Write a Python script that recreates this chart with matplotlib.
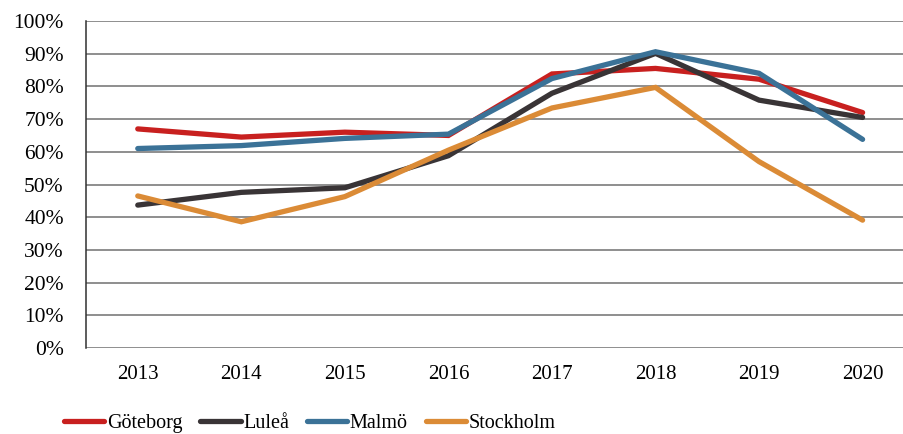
import matplotlib
matplotlib.use("Agg")
import matplotlib.pyplot as plt
from matplotlib.ticker import PercentFormatter

years = ["2013", "2014", "2015", "2016", "2017", "2018", "2019", "2020"]

goteborg = [67, 64.5, 66, 65, 83.8, 85.5, 82.2, 72]
lulea = [43.7, 47.6, 49, 58.8, 77.9, 90.1, 75.8, 70.5]
malmo = [61, 61.9, 64.1, 65.4, 82.4, 90.6, 84, 63.8]
stockholm = [46.5, 38.6, 46.3, 60.5, 73.4, 79.7, 57, 39.1]

series = [
    ("Göteborg", goteborg, "#c8201f"),
    ("Luleå", lulea, "#393436"),
    ("Malmö", malmo, "#3b7297"),
    ("Stockholm", stockholm, "#db8b36"),
]

plt.rcParams["font.family"] = ["Liberation Serif", "DejaVu Serif"]

fig = plt.figure(figsize=(9.04, 4.34), dpi=100)
ax = fig.add_axes([86 / 904, 86 / 434, 1 - 86 / 904, 327 / 434])

x = range(len(years))
for name, vals, color in series:
    ax.plot(x, vals, color=color, linewidth=3.8, label=name,
            solid_capstyle="round", solid_joinstyle="miter")

ax.set_ylim(0, 100)
ax.set_yticks(range(0, 101, 10))
ax.yaxis.set_major_formatter(PercentFormatter(decimals=0))
ax.set_xlim(-0.5, 7.4)
ax.set_xticks(list(x))
ax.set_xticklabels(years)

ax.grid(axis="y", color="#707070", linewidth=1.1)
ax.set_axisbelow(True)
for s in ["top", "right", "bottom"]:
    ax.spines[s].set_visible(False)
ax.spines["left"].set_color("#303030")
ax.spines["left"].set_linewidth(1.1)
ax.tick_params(axis="both", length=0)
ax.tick_params(axis="y", pad=16, labelsize=15.5)
ax.tick_params(axis="x", pad=12, labelsize=15)

ax.legend(loc="center left", bbox_to_anchor=(64 / 904, 11 / 434),
          bbox_transform=fig.transFigure, ncol=4, frameon=False,
          fontsize=14.5, handlelength=2.0, handletextpad=0.12,
          columnspacing=0.9, borderpad=0, borderaxespad=0)

fig.savefig("out.png", dpi=100)
